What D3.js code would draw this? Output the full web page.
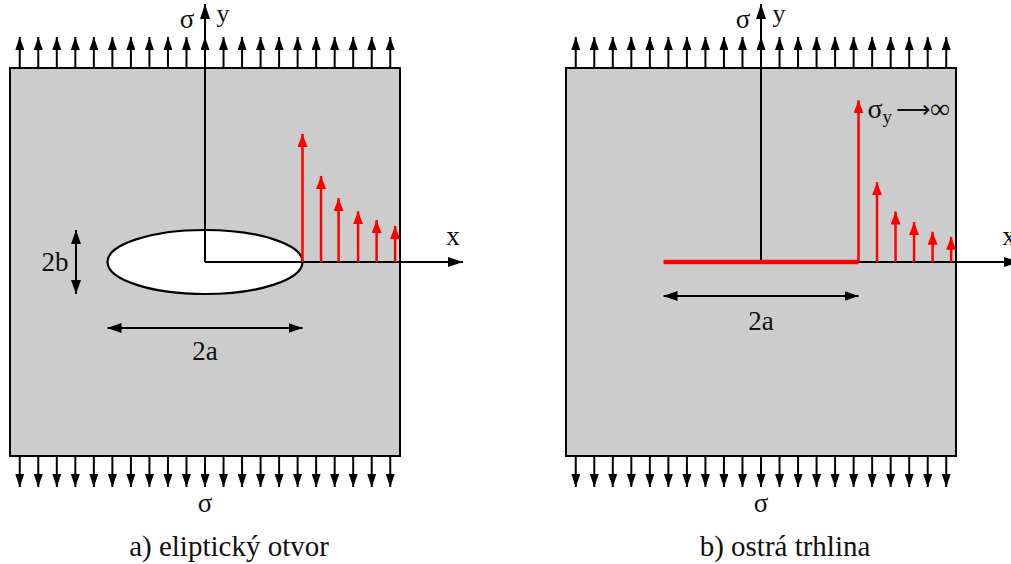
<!DOCTYPE html>
<html><head><meta charset="utf-8">
<script src="https://cdn.jsdelivr.net/npm/d3@7"></script>
<style>
html,body{margin:0;padding:0;background:#fff;}
</style></head>
<body>
<svg id="c" width="1011" height="564"></svg>
<script>
// ---- data (plate coordinates: plate spans -2..2, crack/ellipse half length a = 1) ----
const panels = ["a) eliptický otvor", "b) ostrá trhlina"];
const loadPositions = [-1.9,-1.71,-1.52,-1.33,-1.14,-0.95,-0.76,-0.57,-0.38,-0.19,0,0.19,0.38,0.57,0.76,0.95,1.14,1.33,1.52,1.71,1.9];
const ellipseA = 1.0, ellipseB = 0.33;
const stressXa = [1.0, 1.19, 1.37, 1.57, 1.76, 1.95];
const stressYa = [3.05, 2.05, 1.52, 1.21, 1.0, 0.86];
const stressXb = [1.0, 1.19, 1.38, 1.57, 1.76, 1.95];
const stressYb = [3.85, 1.9, 1.2, 0.95, 0.72, 0.6];
const panelLeft = [10, 566];

const FONT = "Liberation Serif";
const svg = d3.select("#c");
const defs = svg.append("defs");
function marker(id, color, w, l){
  defs.append("marker").attr("id", id).attr("viewBox", `0 ${-w/2} ${l} ${w}`)
    .attr("refX", l).attr("refY", 0).attr("markerUnits","userSpaceOnUse")
    .attr("markerWidth", l).attr("markerHeight", w).attr("orient","auto-start-reverse")
    .append("path").attr("d", `M0,${-w/2}L${l},0L0,${w/2}Z`).attr("fill", color);
}
marker("blk", "#000", 9, 13);
marker("ax", "#000", 10, 15);
marker("red", "#ff0000", 10, 13);
marker("dim", "#000", 10, 14);

function txt(g, x, y, s, size, anchor){
  return g.append("text").attr("x", x).attr("y", y)
    .attr("font-family", FONT).attr("fill", "#111")
    .attr("text-anchor", anchor || "middle").attr("font-size", size).text(s);
}

panels.forEach((cap, i) => {
  const x = d3.scaleLinear().domain([-2, 2]).range([panelLeft[i], panelLeft[i] + 390]);
  const y = d3.scaleLinear().domain([-2, 2]).range([456, 68]);
  const s = d3.scaleLinear().domain([0, 1]).range([0, 42]);
  const g = svg.append("g");
  const x0 = x(0), y0 = y(0);

  // plate
  g.append("rect").attr("x", x(-2)).attr("y", y(2)).attr("width", x(2)-x(-2)).attr("height", y(-2)-y(2))
    .attr("fill", "#cccccc").attr("stroke", "#000").attr("stroke-width", 2);

  // load arrows
  g.selectAll(".top").data(loadPositions).join("line")
    .attr("x1", d => x(d)).attr("x2", d => x(d)).attr("y1", y(2)).attr("y2", y(2) - 31)
    .attr("stroke", "#000").attr("stroke-width", 2).attr("marker-end", "url(#blk)");
  g.selectAll(".bot").data(loadPositions).join("line")
    .attr("x1", d => x(d)).attr("x2", d => x(d)).attr("y1", y(-2)).attr("y2", y(-2) + 31)
    .attr("stroke", "#000").attr("stroke-width", 2).attr("marker-end", "url(#blk)");

  // hole
  if (i === 0) {
    g.append("ellipse").attr("cx", x0).attr("cy", y0)
      .attr("rx", x(ellipseA) - x0).attr("ry", y(0) - y(ellipseB))
      .attr("fill", "#fff").attr("stroke", "#000").attr("stroke-width", 2.2);
  }

  // y axis
  g.append("line").attr("x1", x0).attr("x2", x0).attr("y1", y0).attr("y2", 4)
    .attr("stroke", "#000").attr("stroke-width", 2).attr("marker-end", "url(#ax)");
  // x axis
  g.append("line").attr("x1", x0).attr("x2", x0 + 258).attr("y1", y0).attr("y2", y0)
    .attr("stroke", "#000").attr("stroke-width", 2).attr("marker-end", "url(#ax)");

  // stress distribution
  const sx = i === 0 ? stressXa : stressXb;
  const sy = i === 0 ? stressYa : stressYb;
  g.selectAll(".st").data(sx.map((d, k) => [d, sy[k]])).join("line")
    .attr("x1", d => x(d[0])).attr("x2", d => x(d[0]))
    .attr("y1", y0).attr("y2", d => y0 - s(d[1]))
    .attr("stroke", "#ff0000").attr("stroke-width", 2.5).attr("marker-end", "url(#red)");

  if (i === 1) {
    g.append("line").attr("x1", x(-ellipseA)).attr("x2", x(ellipseA)).attr("y1", y0).attr("y2", y0)
      .attr("stroke", "#ff0000").attr("stroke-width", 4.5);
    // sigma_y -> infinity label
    const t = g.append("text").attr("x", x(ellipseA) + 9).attr("y", 118)
      .attr("font-family", FONT).attr("fill", "#111").attr("font-size", 28);
    t.append("tspan").text("σ");
    t.append("tspan").attr("font-size", 19).attr("dy", 5).text("y");
    t.append("tspan").attr("dy", -5).attr("dx", 4).attr("font-size", 24).text("⟶");
    t.append("tspan").text("∞");
  }

  // dimension arrows
  if (i === 0) {
    g.append("line").attr("x1", 76).attr("x2", 76).attr("y1", y0).attr("y2", y(ellipseB) )
      .attr("stroke", "#000").attr("stroke-width", 2).attr("marker-end", "url(#dim)");
    g.append("line").attr("x1", 76).attr("x2", 76).attr("y1", y0).attr("y2", y(-ellipseB))
      .attr("stroke", "#000").attr("stroke-width", 2).attr("marker-end", "url(#dim)");
    txt(g, 55, 271, "2b", 27);
    g.append("line").attr("x1", x(-ellipseA)).attr("x2", x(ellipseA)).attr("y1", 328).attr("y2", 328)
      .attr("stroke", "#000").attr("stroke-width", 2).attr("marker-start", "url(#dim)").attr("marker-end", "url(#dim)");
    txt(g, x0, 360, "2a", 27);
  } else {
    g.append("line").attr("x1", x(-ellipseA)).attr("x2", x(ellipseA)).attr("y1", 296).attr("y2", 296)
      .attr("stroke", "#000").attr("stroke-width", 2).attr("marker-start", "url(#dim)").attr("marker-end", "url(#dim)");
    txt(g, x0, 330, "2a", 27);
  }

  // labels
  txt(g, x0 - 18, 28, "σ", 27);
  txt(g, x0 + 18, 22, "y", 26);
  txt(g, x0 + 248, 245, "x", 27);
  txt(g, x0, 512, "σ", 27);
  txt(g, x0 + 24, 556, cap, 29);
});
</script>
</body></html>
